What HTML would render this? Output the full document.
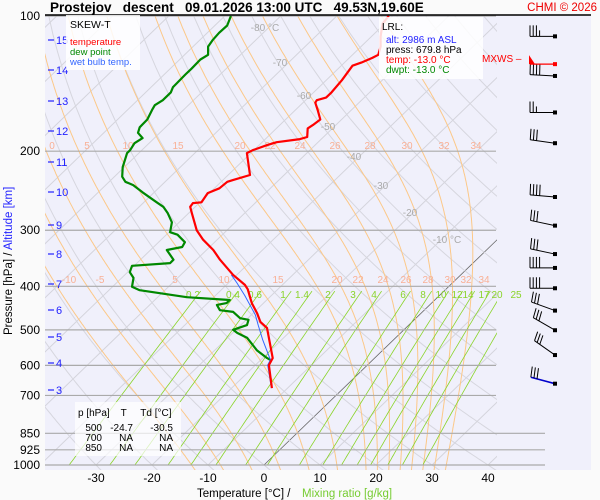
<!DOCTYPE html>
<html><head><meta charset="utf-8">
<style>
body{margin:0;background:#fafafa;}
svg{display:block;font-family:"Liberation Sans",sans-serif;}
</style></head>
<body>
<svg id="c" width="600" height="500" viewBox="0 0 600 500" xmlns="http://www.w3.org/2000/svg">
<rect x="0" y="0" width="600" height="500" fill="#fafafa"/>
<rect x="45" y="15" width="546" height="455" fill="#f0f0fb"/>
<defs><clipPath id="pc"><rect x="45" y="15" width="452" height="455"/></clipPath></defs>
<g id="grid" clip-path="url(#pc)"></g>
<g id="labels"></g>
<g id="series" clip-path="url(#pc)"></g>
<g id="barbs"></g>
<line x1="45" y1="15" x2="591" y2="15" stroke="#000" stroke-width="1.5"/>
<text x="50" y="12" font-size="13.5" font-weight="bold" xml:space="preserve">Prostejov   descent   09.01.2026 13:00 UTC   49.53N,19.60E</text>
<text x="597" y="11" font-size="11.5" fill="#e00" text-anchor="end">CHMI © 2026</text>
<g>
<rect x="66" y="15" width="74" height="55" fill="#fff" opacity="0.85"/>
<text x="70" y="28" font-size="10.5">SKEW-T</text>
<text x="70" y="45" font-size="9.5" fill="#f00">temperature</text>
<text x="70" y="55" font-size="9.5" fill="#080">dew point</text>
<text x="70" y="65" font-size="9.5" fill="#36f">wet bulb temp.</text>
</g>
<g>
<rect x="379" y="17" width="104" height="62" fill="#fff" opacity="0.85"/>
<text x="382" y="30" font-size="10">LRL:</text>
<text x="386" y="43" font-size="10" fill="#22f">alt: 2986 m ASL</text>
<text x="386" y="53" font-size="10">press: 679.8 hPa</text>
<text x="386" y="63" font-size="10" fill="#f00">temp: -13.0 °C</text>
<text x="386" y="73" font-size="10" fill="#080">dwpt: -13.0 °C</text>
</g>
<g>
<rect x="75" y="402" width="106" height="54" fill="#fff" opacity="0.7"/>
<text x="78" y="416" font-size="10" xml:space="preserve">p [hPa]    T     Td [°C]</text>
<g font-size="10" text-anchor="end">
<text x="102" y="431">500</text><text x="133" y="431">-24.7</text><text x="173" y="431">-30.5</text>
<text x="102" y="441">700</text><text x="133" y="441">NA</text><text x="173" y="441">NA</text>
<text x="102" y="451">850</text><text x="133" y="451">NA</text><text x="173" y="451">NA</text>
</g></g>
<text x="482" y="62" font-size="10" fill="#f00">MXWS –</text>
<text x="197" y="497" font-size="11.5">Temperature [°C]  /</text>
<text x="302" y="497" font-size="11.5" fill="#7c3">Mixing ratio [g/kg]</text>
<text transform="translate(12,335) rotate(-90)" font-size="11.5">Pressure [hPa]  /  <tspan fill="#22f">Altitude [km]</tspan></text>
</svg>
<script>
const pressureTicks=[100,200,300,400,500,600,700,850,925,1000];
const tempTicks=[-30,-20,-10,0,10,20,30,40];
const altKm=[15,14,13,12,11,10,9,8,7,6,5,4,3];
const altY=[40,70,101,131,162,192,225,254,284,310,337,363,390];
const tempP=[674,599,578,540,495,480,459,436,406,397,377,349,332,315,300,275,266,261,260,248,242,234,232,226,202,199,194,191,188,186,178,175,170,162,156,154,152,148,139,129,127,124,122,117,111,104,100];
const tempT=[-12.8,-17.6,-18.2,-21.1,-24.8,-27.1,-29.3,-32.1,-35.4,-36.7,-40.7,-45.8,-48.8,-52.5,-55.4,-59.4,-60.9,-61.1,-59.7,-60.3,-59.1,-58.9,-58.2,-56.1,-60.7,-60.2,-58.6,-57.4,-53.8,-52.9,-54.4,-54.1,-53.8,-56.0,-57.8,-58.0,-56.8,-56.8,-57.2,-58.0,-57.0,-55.9,-55.4,-56.5,-58.4,-60.4,-60.7];
const dewP=[585,578,555,521,508,500,488,475,471,456,452,440,436,429,423,408,401,383,372,360,355,349,332,327,319,307,303,288,275,266,260,254,247,238,234,228,217,202,199,192,187,182,177,170,162,158,154,148,144,135,131,125,122,117,113,109,105,100];
const dewT=[-18.0,-19.2,-22.5,-26.5,-29.2,-30.5,-28.9,-29.6,-31.4,-33.8,-36.5,-38.0,-36.6,-36.6,-44.8,-54.5,-56.5,-57.9,-59.6,-60.4,-54.1,-54.1,-57.1,-54.9,-55.3,-58.0,-59.8,-61.3,-63.7,-65.7,-67.7,-69.7,-72.1,-75.1,-77.1,-78.6,-80.3,-82.1,-82.1,-82.6,-82.1,-83.9,-84.6,-84.7,-85.6,-86.0,-85.5,-85.5,-86.1,-86.2,-86.2,-86.3,-85.8,-87.3,-87.7,-87.9,-87.8,-88.9];
const wetP=[674,599,583,527,488,463,419,393,377];
const wetT=[-12.9,-17.8,-18.3,-23.3,-26.9,-29.3,-34.8,-38.5,-41.0];
const moistStart=[-10,-5,0,5,10,15,20,22,24,26,28,30,32,34];
const mixRatios=[0.2,0.4,0.6,1,1.4,2,3,4,6,8,10,12,14,17,20,25];
const windSpeedBarbs=[3.5,4,2.5,3,4,3,3,4,4,3,3,3,3];
const windAngles=[0,3,0,8,5,12,12,0,0,20,30,35,15];
const windP=[111,136,164,192,253,293,339,364,404,453,501,569,659];

const NS="http://www.w3.org/2000/svg";
function yP(p){return 16+195*Math.log(p/100);}
function xT(T,p){return 264+5.6*T+(465-yP(p))*1.035;}
function mk(tag,attrs,parent){const e=document.createElementNS(NS,tag);for(const k in attrs)e.setAttribute(k,attrs[k]);parent.appendChild(e);return e;}
const grid=document.getElementById('grid'),labels=document.getElementById('labels'),series=document.getElementById('series'),barbs=document.getElementById('barbs');
function pathFrom(pts){return 'M'+pts.map(q=>q[0].toFixed(1)+','+q[1].toFixed(1)).join('L');}
// isotherms
for(let T=-130;T<=40;T+=10){
 const l=mk('line',{x1:xT(T,1000),y1:yP(1000),x2:xT(T,100),y2:yP(100),stroke:T===0?'#666':'#d4d4dc','stroke-width':T===0?0.8:1},grid);
 
 
}
// dry adiabats
for(let th=-40;th<=200;th+=10){
 const pts=[];for(let p=1050;p>=95;p-=10){const T=(th+273.15)*Math.pow(p/1000,0.286)-273.15;pts.push([xT(T,p),yP(p)]);}
 const e=mk('path',{d:pathFrom(pts),fill:'none',stroke:'#d6d6de','stroke-width':1},grid);
 
 
}
// moist adiabats
function es(Tc){return 6.112*Math.exp(17.67*Tc/(Tc+243.5));}
moistStart.forEach(t0=>{
 let T=t0+273.15;const pts=[];
 for(let p=1050;p>=100;p-=2){
  pts.push([xT(T-273.15,p),yP(p)]);
  const e_=es(T-273.15),rs=0.622*e_/(p-e_),Lv=2.5e6,Rd=287,cp=1005;
  const dTdp=(Rd*T+Lv*rs)/(p*(cp+Lv*Lv*rs*0.622/(Rd*T*T)));
  T-=2*dTdp;
 }
 const e=mk('path',{d:pathFrom(pts),fill:'none',stroke:'#fcc888','stroke-width':1},grid);
 
 
});
// mixing ratio lines
mixRatios.forEach(w=>{
 const pts=[];for(let p=1000;p>=410;p-=10){const e_=w*p/(622+w),L=Math.log(e_/6.112),Td=243.5*L/(17.67-L);pts.push([xT(Td,p),yP(p)]);}
 const e=mk('path',{d:pathFrom(pts),fill:'none',stroke:'#8ad42a','stroke-width':0.8},grid);
 
 
});
// isobars
pressureTicks.forEach(p=>{
 const x2=p>=850?545:496;
 const l=mk('line',{x1:45,y1:yP(p),x2:x2,y2:yP(p),stroke:'#aaa','stroke-width':1.2},labels);
 
 
 const t=mk('text',{x:40,y:yP(p)+4,'font-size':12,'text-anchor':'end'},labels);t.textContent=p;
 
 
});
tempTicks.forEach(T=>{
 const t=mk('text',{x:xT(T,1000),y:482,'font-size':12,'text-anchor':'middle'},labels);t.textContent=T;
 
 
});
altKm.forEach((k,i)=>{
 const l=mk('line',{x1:48,y1:altY[i],x2:54,y2:altY[i],stroke:'#22f','stroke-width':1.2},labels);
 
 
 const t=mk('text',{x:56,y:altY[i]+4,'font-size':11,fill:'#22f'},labels);t.textContent=k;
 
 
});
// static labels
const salmonTop=[['0',52],['5',87],['10',128],['15',178],['20',240],['22',270],['24',300],['26',335],['28',370],['30',407],['32',444],['34',476]];
const salmonMid=[['-10',69],['-5',100],['5',175],['10',224],['15',278],['20',337],['22',358],['24',383],['26',406],['28',428],['30',450],['32',466],['34',484]];
const greenLab=[['0.2',193],['0.4',233],['0.6',255],['1',283],['1.4',302],['2',328],['3',353],['4',374],['6',403],['8',423],['10',441],['12',457],['14',468],['17',484],['20',497],['25',516]];
const grayLab=[['-80 °C',265,31],['-70',280,66],['-60',304,99],['-50',328,130],['-40',354,160],['-30',381,189],['-20',410,216],['-10 °C',447,243]];
salmonTop.forEach(a=>{const t=mk('text',{x:a[1],y:149,'font-size':10,fill:'#f9b095','text-anchor':'middle'},labels);t.textContent=a[0];});
salmonMid.forEach(a=>{const t=mk('text',{x:a[1],y:283,'font-size':10,fill:'#f9b095','text-anchor':'middle'},labels);t.textContent=a[0];});
greenLab.forEach(a=>{const t=mk('text',{x:a[1],y:298,'font-size':10,fill:'#8ad42a','text-anchor':'middle'},labels);t.textContent=a[0];});
grayLab.forEach(a=>{const t=mk('text',{x:a[1],y:a[2],'font-size':10,fill:'#aaa','text-anchor':'middle'},labels);t.textContent=a[0];});
// series
function drawSeries(P,T,col,w,name){
 const pts=P.map((p,i)=>[xT(T[i],p),yP(p)]);
 const e=mk('path',{d:pathFrom(pts),fill:'none',stroke:col,'stroke-width':w,'stroke-linejoin':'round'},series);
 
 
}
drawSeries(dewP,dewT,'#080',2.2,'dew-point-line');
drawSeries(wetP,wetT,'#36f',1,'wet-bulb-line');
drawSeries(tempP,tempT,'#f00',2.2,'temperature-line');
// wind barbs
windP.forEach((p,i)=>{
 const y=yP(p)+ (i===0?-0:0);
 const dx=555,dy=y;
 const a=windAngles[i]*Math.PI/180;
 const L=25,ex=dx-L*Math.cos(a),ey=dy-L*Math.sin(a);
 const g=mk('g',{},barbs);
 
 
 mk('line',{x1:dx,y1:dy,x2:ex,y2:ey,stroke:i===12?'#00c':'#000','stroke-width':i===12?1.6:1},g);
 mk('rect',{x:dx-2,y:dy-2,width:4,height:4,fill:'#000'},g);
 const n=windSpeedBarbs[i];
 for(let k=0;k<Math.ceil(n);k++){
  const bx=ex+k*3.2*Math.cos(a),by=ey+k*3.2*Math.sin(a);
  const len=(k+1>n)?6:11;
  mk('line',{x1:bx,y1:by,x2:bx+len*Math.sin(a)*0.5,y2:by-len*Math.cos(a),stroke:'#000','stroke-width':1},g);
 }
});
// MXWS marker
(function(){const y=yP(128);const g=mk('g',{},barbs);
 
 
 mk('line',{x1:530,y1:y,x2:555,y2:y,stroke:'#f00','stroke-width':1.2},g);
 mk('polygon',{points:`529,${y} 529,${y-9} 535,${y}`,fill:'#f00'},g);
 mk('rect',{x:553,y:y-2,width:4,height:4,fill:'#f00'},g);})();
</script>
</body></html>
